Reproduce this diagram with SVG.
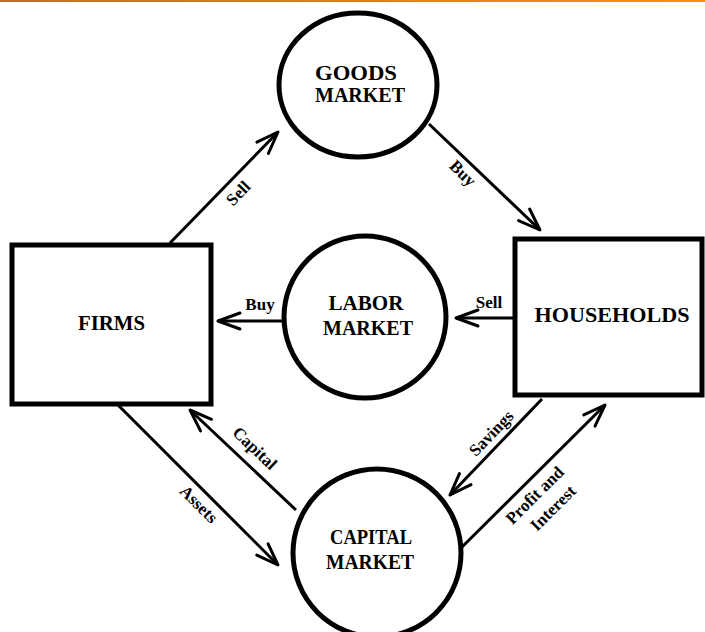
<svg xmlns="http://www.w3.org/2000/svg" width="705" height="632" viewBox="0 0 705 632">
  <style>
    .node { fill: #fff; stroke: #000; stroke-width: 5; }
    .nlabel { font-family: "Liberation Serif", "DejaVu Serif", serif; font-weight: bold; font-size: 20px; fill: #000; text-anchor: middle; }
    .elabel { font-family: "Liberation Serif", "DejaVu Serif", serif; font-weight: bold; font-size: 17px; fill: #000; text-anchor: middle; }
    .conn { fill: none; stroke: #000; stroke-width: 3; marker-end: url(#arr); }
  </style>
  <defs>
    <linearGradient id="topbar" x1="0" y1="0" x2="1" y2="0">
      <stop offset="0" stop-color="#b9722e"/>
      <stop offset="1" stop-color="#f3940f"/>
    </linearGradient>
    <marker id="arr" markerUnits="userSpaceOnUse" markerWidth="30" markerHeight="24" viewBox="-27 -12 30 24" refX="0" refY="0" orient="auto" overflow="visible">
      <path d="M-22,-8 L0,0 L-22,8" fill="none" stroke="#000" stroke-width="3" stroke-linejoin="round" stroke-linecap="round"/>
    </marker>
  </defs>
  <rect x="0" y="0" width="705" height="632" fill="#fff"/>
  <rect x="0" y="0" width="705" height="2" fill="url(#topbar)"/>

  <g id="connectors">
    <line class="conn" x1="170" y1="243" x2="278" y2="132"/>
    <line class="conn" x1="429" y1="124" x2="540" y2="230"/>
    <line class="conn" x1="283" y1="321" x2="218" y2="321"/>
    <line class="conn" x1="513" y1="318" x2="456" y2="318"/>
    <line class="conn" x1="296" y1="510" x2="190" y2="410"/>
    <line class="conn" x1="118" y1="405" x2="278" y2="565"/>
    <line class="conn" x1="542" y1="399" x2="450" y2="495"/>
    <line class="conn" x1="462" y1="547" x2="605" y2="405"/>
    <text class="elabel" transform="translate(238,193) rotate(-45.8)" dy=".35em">Sell</text>
    <text class="elabel" transform="translate(463,173) rotate(44.7)" dy=".35em">Buy</text>
    <text class="elabel" x="260" y="310">Buy</text>
    <text class="elabel" x="489" y="308">Sell</text>
    <text class="elabel" transform="translate(255,448) rotate(43.6)" dy=".35em">Capital</text>
    <text class="elabel" transform="translate(199,504) rotate(45)" dy=".35em">Assets</text>
    <text class="elabel" transform="translate(491,433) rotate(-46)" dy=".35em">Savings</text>
    <g transform="translate(545,500) rotate(-44.8)">
      <text class="elabel" x="-4" y="-5">Profit and</text>
      <text class="elabel" x="0" y="17">Interest</text>
    </g>
  </g>

  <g id="goods-market">
    <ellipse class="node" cx="358" cy="85" rx="79" ry="72"/>
    <text class="nlabel" x="356" y="80" textLength="82" lengthAdjust="spacingAndGlyphs">GOODS</text>
    <text class="nlabel" x="360" y="102" textLength="90" lengthAdjust="spacingAndGlyphs">MARKET</text>
  </g>

  <g id="labor-market">
    <circle class="node" cx="365" cy="317" r="81"/>
    <text class="nlabel" x="366" y="310" textLength="75" lengthAdjust="spacingAndGlyphs">LABOR</text>
    <text class="nlabel" x="368" y="335" textLength="90" lengthAdjust="spacingAndGlyphs">MARKET</text>
  </g>

  <g id="capital-market">
    <circle class="node" cx="377" cy="553" r="84"/>
    <text class="nlabel" x="371" y="544" textLength="82" lengthAdjust="spacingAndGlyphs">CAPITAL</text>
    <text class="nlabel" x="370" y="569" textLength="88" lengthAdjust="spacingAndGlyphs">MARKET</text>
  </g>

  <g id="firms">
    <rect class="node" x="12" y="245" width="199" height="159"/>
    <text class="nlabel" x="111.5" y="330" textLength="67" lengthAdjust="spacingAndGlyphs">FIRMS</text>
  </g>

  <g id="households">
    <rect class="node" x="515" y="239" width="187" height="156"/>
    <text class="nlabel" x="612" y="322" textLength="155" lengthAdjust="spacingAndGlyphs">HOUSEHOLDS</text>
  </g>
</svg>
